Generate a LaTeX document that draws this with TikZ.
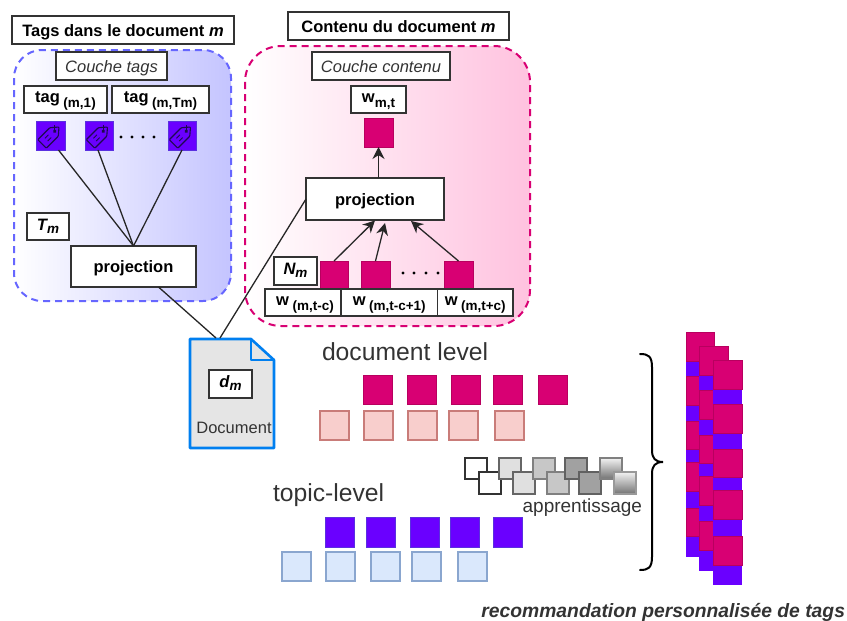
\documentclass[tikz,border=0pt]{standalone}
\usepackage{fontspec}
\setmainfont{Liberation Sans}
\usetikzlibrary{arrows.meta}
\definecolor{crim}{HTML}{D80073}
\definecolor{crimd}{HTML}{B8005F}
\definecolor{viol}{HTML}{6A00FF}
\definecolor{viold}{HTML}{5A30E0}
\definecolor{ink}{HTML}{333333}
\definecolor{pinkf}{HTML}{F8CECC}
\definecolor{pinkd}{HTML}{C97C79}
\definecolor{bluef}{HTML}{DAE8FC}
\definecolor{blued}{HTML}{8AA6CF}
\definecolor{panelb}{HTML}{C4C4FF}
\definecolor{panelp}{HTML}{FFC2DF}
\definecolor{docb}{HTML}{007FF0}
\definecolor{tagl}{HTML}{1E0A50}
\newcommand{\fs}[1]{\fontsize{#1}{#1}\selectfont}
\newcommand{\bx}[7]{%
  \pgfmathsetmacro\bxw{#5-#3}\pgfmathsetmacro\bxh{#6-#4}%
  \node[#1,minimum width=\bxw pt,minimum height=\bxh pt] (#2) at ({(#3+#5)/2},{(#4+#6)/2}) {#7};}
\newcommand{\lbl}[2]{{\bfseries #1}\hspace{3.5pt}\raisebox{-5.5pt}{\fs{13.5}\bfseries #2}}
\newcommand{\ilbl}[2]{{\bfseries\itshape #1}\raisebox{-3pt}{\fs{13.5}\bfseries\itshape #2}}
\tikzset{
  base/.style={rectangle,inner sep=0pt,outer sep=0pt},
  tbox/.style={base,draw=ink,line width=1.2pt,fill=white,text=black,font=\fs{16.5}},
  title/.style={tbox,font=\fs{16.5}\bfseries,text height=12pt,text depth=0pt},
  couche/.style={tbox,font=\fs{16.5}\itshape,text=ink,text height=12pt,text depth=0pt},
  lab/.style={tbox,text height=5pt,text depth=0pt},
  ilab/.style={tbox,text height=7pt,text depth=0pt},
  crimbox/.style={base,fill=crim,draw=crimd,line width=.6pt},
  violbox/.style={base,fill=viol,draw=viold,line width=.6pt},
  pinkbox/.style={base,fill=pinkf,draw=pinkd,line width=1.2pt},
  bluebox/.style={base,fill=bluef,draw=blued,line width=1.2pt},
  graybox/.style={base,line width=1.2pt,draw=#1},
  link/.style={draw=black!85,line width=1.3pt},
  arr/.style={link,-{Stealth[length=12pt,width=12pt]}},
  dotrow/.style={fill=black,draw=none},
  levellab/.style={base,text=ink,font=\fs{24.7}},
  tagicon/.pic={
    \draw[draw=tagl,line width=1.1pt,rounded corners=.8pt]
      (-12,-6) -- (5,-6) -- (12,0) -- (5,6) -- (-12,6) -- cycle;
    \fill[tagl] (6,0) circle (1.9);
    \draw[draw=tagl,line width=.9pt] (-6,-2) -- (-1,-2) (-6,2) -- (-1,2);
    \draw[draw=tagl,line width=.9pt] (6,0) -- (10.5,-4.5);
  }
}
\begin{document}
\begin{tikzpicture}[x=1pt,y=-1pt]
\useasboundingbox (0,0) rectangle (847,621);
% panels
\path[left color=white,right color=panelb,draw=blue!60!white,line width=2pt,dash pattern=on 7pt off 5pt,rounded corners=28pt]
  (14,50) rectangle (231,301);
\path[left color=white,right color=panelp,draw=crim,line width=2pt,dash pattern=on 7pt off 5pt,rounded corners=36pt]
  (245,46) rectangle (530,326);
% tags layer
\bx{title}{titleT}{12}{16}{234}{44}{Tags dans le document \textit{m}}
\bx{couche}{coucheT}{56}{52}{167}{80}{Couche tags}
\bx{lab}{tagA}{24}{86}{107}{113}{\lbl{tag}{(m,1)}}
\bx{lab}{tagB}{112}{86}{209}{113}{\lbl{tag}{(m,Tm)}}
\bx{violbox}{ta}{36}{121}{65}{150}{}
\bx{violbox}{tb}{85}{121}{113}{150}{}
\bx{violbox}{tc}{168}{121}{196}{150}{}
\pic[rotate=45] at (ta) {tagicon};
\pic[rotate=45] at (tb) {tagicon};
\pic[rotate=45] at (tc) {tagicon};
\foreach \x in {121,132,143,154} \fill[dotrow] (\x,137) circle (1.6);
\bx{ilab}{tm}{27}{213}{69}{240}{\ilbl{T}{m}}
\bx{title}{projT}{71}{246}{196}{287}{projection}
\draw[link] ([xshift=8pt]ta.south) -- (projT.north);
\draw[link] ([xshift=-1pt]tb.south) -- (projT.north);
\draw[link] ([xshift=0pt]tc.south) -- (projT.north);
% content layer
\bx{title}{titleC}{288}{12}{509}{40}{Contenu du document \textit{m}}
\bx{couche}{coucheC}{312}{52}{450}{80}{Couche contenu}
\bx{lab}{wmt}{351}{86}{406}{113}{{\bfseries w}\raisebox{-5.5pt}{\fs{13.5}\bfseries m,t}}
\bx{crimbox}{wout}{364}{118}{393}{147}{}
\bx{title}{projC}{306}{178}{444}{220}{projection}
\draw[arr] (projC.north -| wout.south) -- (wout.south);
\bx{ilab}{nm}{274}{257}{317}{285}{\ilbl{N}{m}}
\bx{crimbox}{wa}{320}{261}{348}{289}{}
\bx{crimbox}{wb}{361}{261}{390}{289}{}
\bx{crimbox}{wc}{444}{261}{473}{289}{}
\foreach \x in {403,414,426,438} \fill[dotrow] (\x,273) circle (1.6);
\bx{lab}{wla}{265}{289}{341}{316}{\hspace{4pt}\lbl{w}{(m,t-c)}}
\bx{lab}{wlb}{341}{289}{437.5}{316}{\lbl{w}{(m,t-c+1)}}
\bx{lab}{wlc}{437.5}{289}{513}{316}{\lbl{w}{(m,t+c)}}
\coordinate (ha) at (375,220.5);
\coordinate (hb) at (385,223);
\coordinate (hc) at (411,221);
\draw[arr] (wa.north) -- (ha);
\draw[arr] ([xshift=0pt]wb.north) -- (hb);
\draw[arr] (wc.north) -- (hc);
% document
\draw[draw=docb,fill=black!10,line width=2.6pt,line join=round]
  (190,339) -- (251,339) -- (274,360) -- (274,448) -- (190,448) -- cycle;
\draw[draw=docb,line width=2.6pt,line join=round]
  (251,339) -- (251,360) -- (274,360);
\coordinate (docA) at (216,338);
\coordinate (docB) at (220,338);
\draw[link] ([xshift=25pt]projT.south) -- (docA);
\draw[link] (projC.west) -- (docB);
\bx{ilab}{dm}{209}{370}{252}{398}{\ilbl{d}{m}}
\node[base,font=\fs{16.5},text=ink] (docl) at (234,428) {Document};
% labels
\node[levellab,anchor=west] (ldoc) at (322,352) {document level};
\node[levellab,anchor=west] (ltop) at (273,495) {topic-level};
\node[base,font=\fs{19},text=ink,anchor=east] (lapp) at (642,508) {apprentissage};
\node[base,font=\fs{19.3}\bfseries\itshape,text=ink,anchor=east] (lrec) at (845,612) {recommandation personnalisée de tags};
% rows
\foreach \a/\n in {363/a,407/b,451/c,493/d,538/e} \bx{crimbox}{cr\n}{\a}{375}{\a+29}{404}{};
\foreach \a/\n in {320/a,364/b,408/c,449/d,495/e} \bx{pinkbox}{pk\n}{\a}{411}{\a+29}{440}{};
\foreach \a/\n in {325/a,366/b,410/c,450/d,493/e} \bx{violbox}{vi\n}{\a}{517}{\a+29.5}{547}{};
\foreach \a/\n in {282/a,326/b,371/c,412/d,458/e} \bx{bluebox}{bl\n}{\a}{552}{\a+29}{581}{};
% gray pairs
\bx{graybox=ink,fill=white}{gaa}{465}{458}{487}{479}{}
\bx{graybox=ink,fill=white}{gab}{479}{472}{501}{494}{}
\bx{graybox=black!60,fill=black!12}{gba}{499}{458}{521}{479}{}
\bx{graybox=black!60,fill=black!12}{gbb}{513}{472}{535}{494}{}
\bx{graybox=black!50,fill=black!22}{gca}{533}{458}{555}{479}{}
\bx{graybox=black!50,fill=black!22}{gcb}{547}{472}{569}{494}{}
\bx{graybox=black!62,fill=black!37}{gda}{565}{458}{587}{479}{}
\bx{graybox=black!62,fill=black!37}{gdb}{579}{472}{601}{494}{}
\bx{graybox=black!50,top color=black!5,bottom color=black!55}{gea}{600}{458}{622}{479}{}
\bx{graybox=black!40,top color=black!5,bottom color=black!55}{geb}{614}{472}{636}{494}{}
% brace
\draw[draw=black,line width=2pt,line cap=round]
  (640,354) .. controls (648,354) and (652,356) .. (652,367) -- (652,450)
  .. controls (652,458) and (655,462) .. (663,462)
  .. controls (655,462) and (652,466) .. (652,474) -- (652,557)
  .. controls (652,568) and (648,570) .. (640,570);
% stacks
\foreach \ya/\yb in {361/376.7,405/421,449.3/462.7,491/508.3,536.7/557.3} \fill[viol] (686,\ya) rectangle (714,\yb);
\foreach \ya/\yb in {332.7/361,376.7/405,421/449.3,462.7/491,508.3/536.7} \draw[fill=crim,draw=crimd,line width=.6pt] (686,\ya) rectangle (714,\yb);
\foreach \ya/\yb in {375/390.7,419/435,463/476.7,505/521.7,550/570.7} \fill[viol] (699,\ya) rectangle (728,\yb);
\foreach \ya/\yb in {346.7/375,390.7/419,435/463,476.7/505,521.7/550} \draw[fill=crim,draw=crimd,line width=.6pt] (699,\ya) rectangle (728,\yb);
\foreach \ya/\yb in {389/404,433.3/449,477.3/490,519/536,565/585} \fill[viol] (713,\ya) rectangle (742,\yb);
\foreach \ya/\yb in {360/389,404/433.3,449/477.3,490/519,536/565} \draw[fill=crim,draw=crimd,line width=.6pt] (713,\ya) rectangle (742,\yb);
\end{tikzpicture}
\end{document}
